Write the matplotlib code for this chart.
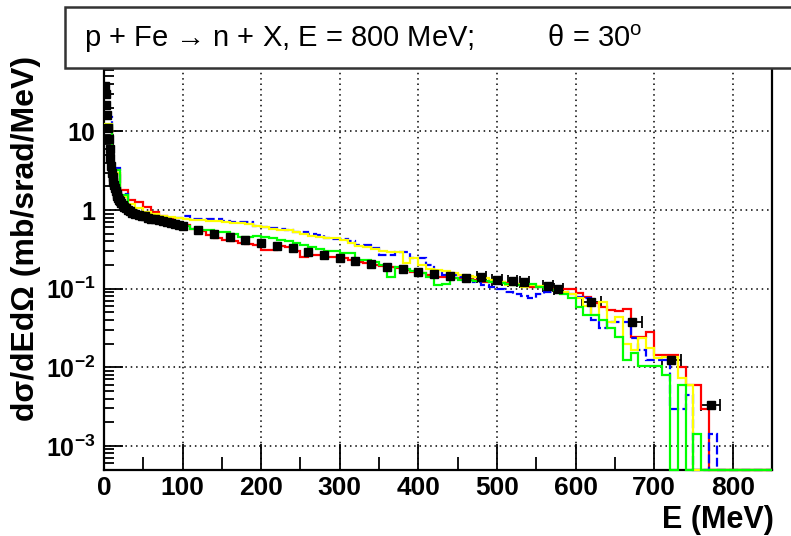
import numpy as np
import matplotlib
matplotlib.use("Agg")
import matplotlib.pyplot as plt
from matplotlib.patches import Rectangle
from matplotlib.ticker import FixedLocator, FuncFormatter, NullFormatter

plt.rcParams['font.family'] = ['Liberation Sans', 'DejaVu Sans']
plt.rcParams['mathtext.fontset'] = 'custom'
plt.rcParams['mathtext.rm'] = 'Liberation Sans'
plt.rcParams['mathtext.bf'] = 'Liberation Sans:bold'
plt.rcParams['mathtext.it'] = 'Liberation Sans:italic'

# ---- histogram binning (MeV) ----
bin_width = 10
n_bins = 85
x_max = 850
y_min, y_max = 5e-4, 70

# ---- model predictions, dsigma/dE dOmega per 10 MeV bin (mb/srad/MeV) ----
red_vals = [
    11, 3.0, 1.8, 1.35, 1.25, 1.1, 0.95, 0.85, 0.78, 0.68,
    0.64, 0.58, 0.54, 0.48, 0.44, 0.42, 0.40, 0.38, 0.37, 0.36,
    0.31, 0.31, 0.35, 0.34, 0.30, 0.25, 0.27, 0.27, 0.255, 0.25,
    0.245, 0.23, 0.22, 0.21, 0.20, 0.195, 0.19, 0.185, 0.172, 0.165,
    0.158, 0.15, 0.142, 0.14, 0.138, 0.135, 0.132, 0.128, 0.122, 0.12,
    0.12, 0.117, 0.113, 0.108, 0.106, 0.104, 0.103, 0.10, 0.099, 0.098,
    0.087, 0.079, 0.065, 0.058, 0.053, 0.052, 0.055, 0.024, 0.024, 0.028,
    0.0143, 0.0143, 0.0143, 0.0101, 0.0059, 0.0059, 0.0029, 0, 0, 0,
    0, 0, 0, 0, 0,
]
blue_vals = [
    15.4, 3.4, 1.6, 0.95, 0.92, 0.88, 0.85, 0.82, 0.80, 0.80,
    0.84, 0.78, 0.78, 0.76, 0.76, 0.72, 0.71, 0.71, 0.71, 0.62,
    0.60, 0.59, 0.58, 0.56, 0.53, 0.52, 0.50, 0.48, 0.44, 0.43,
    0.43, 0.40, 0.36, 0.36, 0.33, 0.27, 0.27, 0.295, 0.295, 0.245,
    0.245, 0.20, 0.17, 0.149, 0.149, 0.14, 0.13, 0.12, 0.11, 0.106,
    0.10, 0.09, 0.085, 0.08, 0.076, 0.085, 0.09, 0.09, 0.09, 0.085,
    0.079, 0.076, 0.040, 0.032, 0.038, 0.038, 0.038, 0.0235, 0.0165, 0.0124,
    0.0124, 0.0124, 0.0029, 0.0029, 0.0044, 0, 0, 0.0014, 0, 0,
    0, 0, 0, 0, 0,
]
yellow_vals = [
    12.5, 3.0, 1.45, 1.2, 1.05, 0.95, 0.90, 0.85, 0.82, 0.80,
    0.76, 0.75, 0.74, 0.72, 0.72, 0.70, 0.69, 0.68, 0.66, 0.63,
    0.60, 0.58, 0.56, 0.55, 0.52, 0.50, 0.47, 0.45, 0.44, 0.44,
    0.42, 0.38, 0.35, 0.34, 0.32, 0.30, 0.295, 0.29, 0.21, 0.245,
    0.20, 0.18, 0.172, 0.17, 0.16, 0.15, 0.145, 0.14, 0.135, 0.13,
    0.122, 0.11, 0.115, 0.105, 0.11, 0.108, 0.105, 0.095, 0.09, 0.085,
    0.075, 0.06, 0.046, 0.068, 0.038, 0.044, 0.020, 0.0165, 0.0233, 0.0174,
    0.0131, 0.0136, 0.0136, 0.0072, 0.0059, 0, 0, 0, 0, 0,
    0, 0, 0, 0, 0,
]
green_vals = [
    12, 3.2, 1.55, 0.98, 0.88, 0.85, 0.80, 0.72, 0.68, 0.63,
    0.62, 0.57, 0.55, 0.56, 0.53, 0.52, 0.50, 0.46, 0.46, 0.47,
    0.45, 0.44, 0.41, 0.40, 0.38, 0.36, 0.34, 0.32, 0.30, 0.30,
    0.28, 0.28, 0.23, 0.23, 0.22, 0.20, 0.142, 0.19, 0.18, 0.17,
    0.16, 0.14, 0.111, 0.115, 0.135, 0.13, 0.13, 0.125, 0.125, 0.12,
    0.118, 0.115, 0.112, 0.11, 0.115, 0.105, 0.10, 0.095, 0.085, 0.075,
    0.059, 0.046, 0.046, 0.040, 0.032, 0.0245, 0.0125, 0.015, 0.0105, 0.0105,
    0.0105, 0.008, 0, 0.006, 0, 0.0014, 0, 0, 0, 0,
    0, 0, 0, 0, 0,
]

# ---- measured neutron spectrum ----
data_E = [
    1, 2, 3, 4, 5, 6, 7, 8, 9, 10, 11, 12, 13, 14, 15, 16, 17, 18, 19, 20,
    22, 24, 26, 28, 30, 33, 36, 40, 44, 48, 52, 56, 60, 65, 70, 75, 80, 85, 90, 95,
    100, 120, 140, 160, 180, 200, 220, 240, 260, 280, 300, 320, 340, 360, 380,
    400, 420, 440, 460, 480, 500, 520, 535, 565, 578, 620, 672, 722, 772,
]
data_val = [
    38, 30, 22, 16, 11, 8, 6, 4.6, 3.6, 3.0, 2.6, 2.3, 2.1, 1.9, 1.75, 1.6, 1.5, 1.42, 1.35, 1.3,
    1.22, 1.15, 1.1, 1.05, 1.0, 0.96, 0.93, 0.90, 0.87, 0.85, 0.83, 0.80, 0.78, 0.76, 0.74, 0.72,
    0.70, 0.68, 0.66, 0.64,
    0.62, 0.55, 0.49, 0.45, 0.42, 0.385, 0.35, 0.325, 0.295, 0.27, 0.245, 0.225, 0.205, 0.19, 0.178,
    0.165, 0.152, 0.145, 0.138, 0.14, 0.13, 0.125, 0.12, 0.108, 0.098, 0.067, 0.038, 0.0125, 0.0033,
]
data_halfwidth = [0] * 59 + [6, 6, 6, 6, 6, 6, 12, 12, 12, 12]

y_tick_vals = [1e-3, 1e-2, 1e-1, 1, 10]
y_tick_text = [r'$\mathbf{10^{-3}}$', r'$\mathbf{10^{-2}}$', r'$\mathbf{10^{-1}}$', '1', '10']
x_tick_vals = [0, 100, 200, 300, 400, 500, 600, 700, 800]

W, H = 791, 536
fig = plt.figure(figsize=(W / 100, H / 100), dpi=100)
ax_l, ax_r, ax_t, ax_b = 104, 772, 65, 469.5
ax = fig.add_axes([ax_l / W, 1 - ax_b / H, (ax_r - ax_l) / W, (ax_b - ax_t) / H])
ax.set_yscale('log')
ax.set_xlim(0, x_max)
ax.set_ylim(y_min, y_max)

edges = np.arange(n_bins + 1) * bin_width

# data points: bars first, markers on top of the model lines
E = np.array(data_E, float)
V = np.array(data_val, float)
HW = np.array(data_halfwidth, float)
m = HW > 0
ax.errorbar(E[m], V[m], xerr=HW[m], fmt='none', ecolor='black',
            elinewidth=1.3, capsize=4, capthick=1.3, zorder=2.2)

series = [
    (red_vals, '#ff0000', '-'),
    (blue_vals, '#0000ff', (0, (4, 1.5))),
    (yellow_vals, '#ffff00', '-'),
    (green_vals, '#00ff00', '-'),
]
for vals, col, ls in series:
    v = np.array(vals, float)
    v = np.where(v > 0, v, y_min)   # empty bins sit on the frame floor
    ax.stairs(v, edges, baseline=None, color=col, lw=1.6, linestyle=ls,
              zorder=3, clip_on=False)

ax.plot(E, V, linestyle='none', marker='s', ms=6, color='black', zorder=4)

# grid and frame
ax.grid(True, which='major', linestyle=(0, (1, 2.5)), color='black', lw=1.1)
ax.set_axisbelow(True)
for s in ax.spines.values():
    s.set_linewidth(1.6)
    s.set_color('black')

ax.xaxis.set_major_locator(FixedLocator(x_tick_vals))
ax.xaxis.set_minor_locator(FixedLocator([50, 150, 250, 350, 450, 550, 650, 750]))
ax.yaxis.set_major_locator(FixedLocator(y_tick_vals))
minor_y = [k * 10.0 ** e for e in range(-4, 2) for k in range(2, 10)]
ax.yaxis.set_minor_locator(FixedLocator(minor_y))
ax.yaxis.set_major_formatter(FuncFormatter(
    lambda v, p: y_tick_text[y_tick_vals.index(v)] if v in y_tick_vals else ''))
ax.yaxis.set_minor_formatter(NullFormatter())

ax.tick_params(axis='x', which='major', direction='in', length=19, width=1.3,
               labelsize=19, pad=5, top=False)
ax.tick_params(axis='x', which='minor', direction='in', length=9.5, width=1.3, top=False)
ax.tick_params(axis='y', which='major', direction='in', length=14, width=1.3,
               labelsize=18, pad=6, right=False)
ax.tick_params(axis='y', which='minor', direction='in', length=7, width=1.3, right=False)
for lab in ax.get_xticklabels() + ax.get_yticklabels():
    lab.set_fontweight('bold')

# title box
box = Rectangle((65 / W, 1 - 68 / H), (820 - 65) / W, 61 / H, transform=fig.transFigure,
                facecolor='white', edgecolor='#333333', lw=1.8, zorder=10, clip_on=False)
fig.add_artist(box)
fig.text(84 / W, 1 - 39 / H,
         'p + Fe \u2192 n + X, E = 800 MeV;         θ = 30$^{\\mathrm{o}}$',
         fontsize=21, ha='left', va='center', zorder=11)

fig.text(26 / W, 1 - 238 / H, 'dσ/dEdΩ (mb/srad/MeV)', rotation=90,
         fontsize=23, fontweight='bold', ha='center', va='center')
fig.text(774 / W, 1 - 520 / H, 'E (MeV)', fontsize=22, fontweight='bold',
         ha='right', va='center')

fig.savefig('out.png', dpi=100)
